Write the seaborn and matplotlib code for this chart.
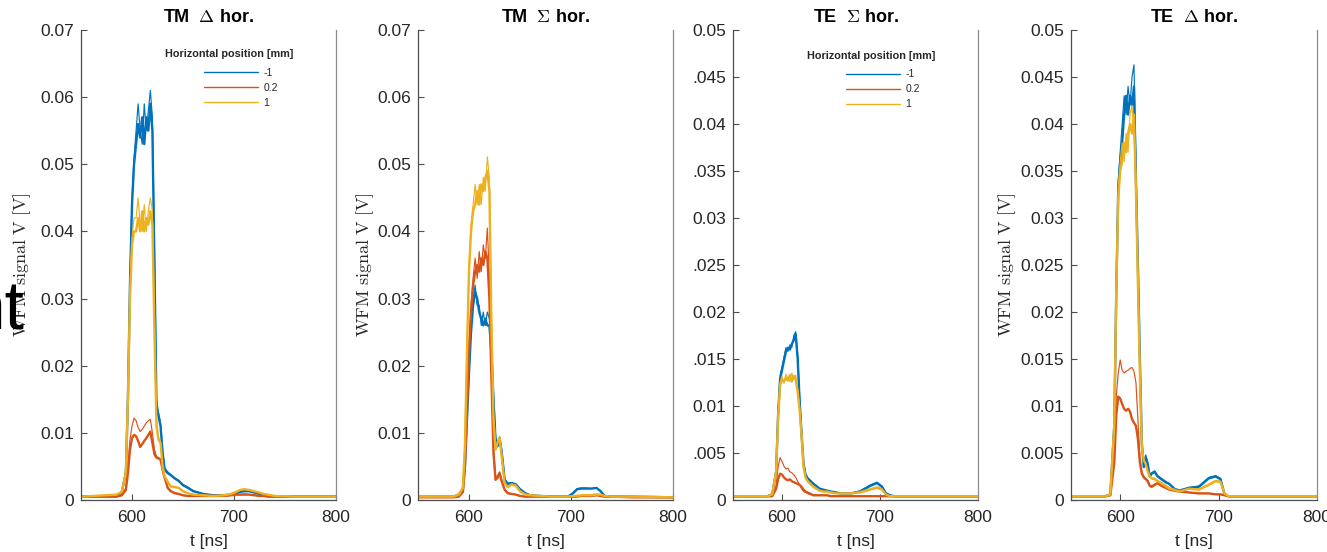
import matplotlib
matplotlib.use("Agg")
import matplotlib.pyplot as plt
import pandas as pd
import seaborn as sns
from matplotlib.lines import Line2D

# ---------------- data ----------------
TIME_NS = [550, 585, 590, 594, 596, 598, 600, 602, 604, 606, 608, 610, 612, 614, 616,
           618, 620, 622, 624, 626, 628, 630, 632, 635, 638, 642, 646, 650, 655, 660,
           670, 680, 690, 697, 702, 706, 710, 715, 720, 725, 729, 733, 740, 760, 800]

POSITIONS = ["-1", "0.2", "1"]
COLORS = {"-1": "#0072BD", "0.2": "#D95319", "1": "#EDB120"}
LEGEND_TITLE = "Horizontal position [mm]"

TITLES = ["TM  $\\Delta$ hor.", "TM  $\\Sigma$ hor.", "TE  $\\Sigma$ hor.", "TE  $\\Delta$ hor."]
Y_TOPS = [0.07, 0.07, 0.05, 0.05]
YTICKS_07 = [0, 0.01, 0.02, 0.03, 0.04, 0.05, 0.06, 0.07]
YTICKLABELS_07 = ["0", "0.01", "0.02", "0.03", "0.04", "0.05", "0.06", "0.07"]
YTICKS_05 = [0, 0.005, 0.01, 0.015, 0.02, 0.025, 0.03, 0.035, 0.04, 0.045, 0.05]
YTICKLABELS_05_CLIPPED = ["0", ".005", "0.01", ".015", "0.02", ".025", "0.03", ".035", "0.04", ".045", "0.05"]
YTICKLABELS_05 = ["0", "0.005", "0.01", "0.015", "0.02", "0.025", "0.03", "0.035", "0.04", "0.045", "0.05"]
XTICKS = [600, 700, 800]
XTICKLABELS = ["600", "700", "800"]

# Panel 1: TM Delta hor.
tm_d_m1_a = [0.0005, 0.0006, 0.0012, 0.0040, 0.0150, 0.0320, 0.0440, 0.0500, 0.0530, 0.0560,
             0.0540, 0.0570, 0.0530, 0.0570, 0.0550, 0.0590, 0.0550, 0.0350, 0.0140, 0.0125,
             0.0110, 0.0070, 0.0045, 0.0040, 0.0037, 0.0032, 0.0028, 0.0022, 0.0018, 0.0013,
             0.0009, 0.0007, 0.0007, 0.0008, 0.0010, 0.0012, 0.0013, 0.0013, 0.0011, 0.0009,
             0.0007, 0.0006, 0.0005, 0.0005, 0.0005]
tm_d_m1_b = [0.0005, 0.0006, 0.0013, 0.0045, 0.0160, 0.0330, 0.0450, 0.0510, 0.0550, 0.0590,
             0.0550, 0.0530, 0.0590, 0.0550, 0.0580, 0.0610, 0.0570, 0.0380, 0.0150, 0.0130,
             0.0115, 0.0075, 0.0048, 0.0042, 0.0038, 0.0033, 0.0029, 0.0023, 0.0019, 0.0014,
             0.0009, 0.0007, 0.0007, 0.0008, 0.0011, 0.0013, 0.0014, 0.0013, 0.0011, 0.0009,
             0.0007, 0.0006, 0.0005, 0.0005, 0.0005]
tm_d_02_a = [0.0005, 0.0005, 0.0007, 0.0015, 0.0040, 0.0075, 0.0092, 0.0097, 0.0095, 0.0088,
             0.0079, 0.0083, 0.0088, 0.0092, 0.0097, 0.0102, 0.0085, 0.0068, 0.0063, 0.0062,
             0.0060, 0.0045, 0.0033, 0.0018, 0.0013, 0.0010, 0.0009, 0.0007, 0.0006, 0.0006,
             0.0006, 0.0006, 0.0006, 0.0007, 0.0008, 0.0008, 0.0008, 0.0008, 0.0007, 0.0006,
             0.0006, 0.0005, 0.0005, 0.0005, 0.0005]
tm_d_02_b = [0.0005, 0.0005, 0.0008, 0.0018, 0.0050, 0.0090, 0.0110, 0.0122, 0.0118, 0.0108,
             0.0102, 0.0105, 0.0110, 0.0115, 0.0118, 0.0120, 0.0100, 0.0075, 0.0065, 0.0063,
             0.0061, 0.0047, 0.0034, 0.0019, 0.0014, 0.0011, 0.0009, 0.0007, 0.0006, 0.0006,
             0.0006, 0.0006, 0.0006, 0.0007, 0.0008, 0.0008, 0.0009, 0.0008, 0.0007, 0.0006,
             0.0006, 0.0005, 0.0005, 0.0005, 0.0005]
tm_d_p1_a = [0.0005, 0.0008, 0.0012, 0.0040, 0.0150, 0.0300, 0.0380, 0.0400, 0.0400, 0.0420,
             0.0400, 0.0430, 0.0400, 0.0420, 0.0410, 0.0430, 0.0410, 0.0250, 0.0110, 0.0090,
             0.0085, 0.0050, 0.0035, 0.0027, 0.0020, 0.0019, 0.0018, 0.0013, 0.0010, 0.0008,
             0.0007, 0.0006, 0.0007, 0.0009, 0.0012, 0.0015, 0.0016, 0.0015, 0.0013, 0.0011,
             0.0009, 0.0008, 0.0006, 0.0005, 0.0005]
tm_d_p1_b = [0.0005, 0.0008, 0.0013, 0.0045, 0.0160, 0.0310, 0.0390, 0.0420, 0.0420, 0.0450,
             0.0410, 0.0400, 0.0440, 0.0400, 0.0430, 0.0450, 0.0430, 0.0270, 0.0120, 0.0092,
             0.0087, 0.0052, 0.0036, 0.0028, 0.0021, 0.0020, 0.0018, 0.0014, 0.0010, 0.0008,
             0.0007, 0.0006, 0.0007, 0.0009, 0.0012, 0.0015, 0.0016, 0.0015, 0.0013, 0.0011,
             0.0009, 0.0008, 0.0006, 0.0005, 0.0005]

# Panel 2: TM Sigma hor.
tm_s_m1_a = [0.0005, 0.0005, 0.0008, 0.0015, 0.0050, 0.0120, 0.0190, 0.0250, 0.0290, 0.0310,
             0.0300, 0.0280, 0.0270, 0.0260, 0.0270, 0.0260, 0.0260, 0.0220, 0.0150, 0.0090,
             0.0080, 0.0092, 0.0072, 0.0030, 0.0024, 0.0025, 0.0023, 0.0016, 0.0010, 0.0007,
             0.0006, 0.0005, 0.0005, 0.0005, 0.0010, 0.0016, 0.0017, 0.0017, 0.0017, 0.0018,
             0.0013, 0.0006, 0.0005, 0.0005, 0.0004]
tm_s_m1_b = [0.0005, 0.0005, 0.0009, 0.0017, 0.0055, 0.0130, 0.0200, 0.0260, 0.0300, 0.0320,
             0.0290, 0.0290, 0.0260, 0.0280, 0.0260, 0.0280, 0.0270, 0.0230, 0.0160, 0.0095,
             0.0083, 0.0094, 0.0075, 0.0032, 0.0025, 0.0026, 0.0024, 0.0017, 0.0011, 0.0007,
             0.0006, 0.0005, 0.0005, 0.0005, 0.0011, 0.0017, 0.0018, 0.0018, 0.0017, 0.0018,
             0.0014, 0.0006, 0.0005, 0.0005, 0.0004]
tm_s_02_a = [0.0004, 0.0004, 0.0005, 0.0012, 0.0050, 0.0130, 0.0220, 0.0280, 0.0320, 0.0340,
             0.0350, 0.0340, 0.0360, 0.0350, 0.0370, 0.0360, 0.0300, 0.0180, 0.0070, 0.0030,
             0.0033, 0.0040, 0.0028, 0.0015, 0.0010, 0.0009, 0.0008, 0.0006, 0.0005, 0.0005,
             0.0005, 0.0005, 0.0005, 0.0005, 0.0005, 0.0005, 0.0006, 0.0006, 0.0006, 0.0007,
             0.0006, 0.0005, 0.0005, 0.0004, 0.0004]
tm_s_02_b = [0.0004, 0.0004, 0.0005, 0.0013, 0.0055, 0.0140, 0.0230, 0.0290, 0.0330, 0.0360,
             0.0330, 0.0370, 0.0340, 0.0380, 0.0360, 0.0405, 0.0330, 0.0200, 0.0080, 0.0035,
             0.0036, 0.0042, 0.0030, 0.0016, 0.0011, 0.0009, 0.0008, 0.0006, 0.0005, 0.0005,
             0.0005, 0.0005, 0.0005, 0.0005, 0.0005, 0.0005, 0.0006, 0.0006, 0.0007, 0.0008,
             0.0006, 0.0005, 0.0005, 0.0004, 0.0004]
tm_s_p1_a = [0.0005, 0.0005, 0.0008, 0.0018, 0.0080, 0.0220, 0.0340, 0.0400, 0.0430, 0.0440,
             0.0460, 0.0440, 0.0470, 0.0460, 0.0480, 0.0490, 0.0460, 0.0260, 0.0120, 0.0075,
             0.0085, 0.0093, 0.0065, 0.0025, 0.0019, 0.0023, 0.0021, 0.0013, 0.0008, 0.0007,
             0.0006, 0.0005, 0.0005, 0.0005, 0.0006, 0.0006, 0.0007, 0.0007, 0.0007, 0.0008,
             0.0008, 0.0006, 0.0005, 0.0005, 0.0004]
tm_s_p1_b = [0.0005, 0.0005, 0.0009, 0.0020, 0.0090, 0.0230, 0.0350, 0.0410, 0.0440, 0.0470,
             0.0440, 0.0470, 0.0440, 0.0480, 0.0460, 0.0511, 0.0480, 0.0280, 0.0130, 0.0078,
             0.0087, 0.0095, 0.0068, 0.0026, 0.0020, 0.0024, 0.0022, 0.0014, 0.0009, 0.0007,
             0.0006, 0.0005, 0.0005, 0.0005, 0.0006, 0.0007, 0.0007, 0.0008, 0.0008, 0.0009,
             0.0008, 0.0006, 0.0005, 0.0005, 0.0004]

# Panel 3: TE Sigma hor.
te_s_m1_a = [0.0004, 0.0004, 0.0006, 0.0030, 0.0090, 0.0128, 0.0138, 0.0148, 0.0158, 0.0162,
             0.0160, 0.0166, 0.0170, 0.0176, 0.0150, 0.0105, 0.0070, 0.0038, 0.0027, 0.0023,
             0.0021, 0.0019, 0.0017, 0.0015, 0.0012, 0.0011, 0.0010, 0.0009, 0.0008, 0.0007,
             0.0007, 0.0009, 0.0015, 0.0018, 0.0014, 0.0007, 0.0005, 0.0004, 0.0004, 0.0004,
             0.0004, 0.0004, 0.0004, 0.0004, 0.0004]
te_s_m1_b = [0.0004, 0.0004, 0.0006, 0.0032, 0.0095, 0.0132, 0.0142, 0.0152, 0.0162, 0.0158,
             0.0165, 0.0162, 0.0175, 0.0179, 0.0155, 0.0110, 0.0073, 0.0040, 0.0028, 0.0024,
             0.0022, 0.0020, 0.0018, 0.0015, 0.0013, 0.0011, 0.0010, 0.0009, 0.0008, 0.0007,
             0.0007, 0.0010, 0.0016, 0.0019, 0.0015, 0.0008, 0.0005, 0.0004, 0.0004, 0.0004,
             0.0004, 0.0004, 0.0004, 0.0004, 0.0004]
te_s_02_a = [0.0004, 0.0004, 0.0004, 0.0012, 0.0022, 0.0028, 0.0027, 0.0024, 0.0022, 0.0021,
             0.0022, 0.0020, 0.0019, 0.0018, 0.0017, 0.0016, 0.0014, 0.0011, 0.0009, 0.0008,
             0.0007, 0.0006, 0.0005, 0.0005, 0.0005, 0.0005, 0.0005, 0.0004, 0.0004, 0.0004,
             0.0004, 0.0004, 0.0004, 0.0004, 0.0004, 0.0004, 0.0004, 0.0004, 0.0004, 0.0004,
             0.0004, 0.0004, 0.0004, 0.0004, 0.0004]
te_s_02_b = [0.0004, 0.0004, 0.0004, 0.0015, 0.0035, 0.0045, 0.0041, 0.0036, 0.0033, 0.0034,
             0.0030, 0.0029, 0.0027, 0.0024, 0.0020, 0.0016, 0.0012, 0.0009, 0.0008, 0.0007,
             0.0006, 0.0006, 0.0005, 0.0005, 0.0005, 0.0005, 0.0005, 0.0004, 0.0004, 0.0004,
             0.0004, 0.0004, 0.0004, 0.0004, 0.0004, 0.0004, 0.0004, 0.0004, 0.0004, 0.0004,
             0.0004, 0.0004, 0.0004, 0.0004, 0.0004]
te_s_p1_a = [0.0004, 0.0004, 0.0006, 0.0030, 0.0085, 0.0122, 0.0128, 0.0126, 0.0130, 0.0127,
             0.0133, 0.0126, 0.0132, 0.0128, 0.0115, 0.0095, 0.0068, 0.0035, 0.0024, 0.0020,
             0.0018, 0.0016, 0.0014, 0.0012, 0.0010, 0.0009, 0.0009, 0.0008, 0.0007, 0.0007,
             0.0007, 0.0008, 0.0011, 0.0013, 0.0011, 0.0006, 0.0004, 0.0004, 0.0004, 0.0004,
             0.0004, 0.0004, 0.0004, 0.0004, 0.0004]
te_s_p1_b = [0.0004, 0.0004, 0.0006, 0.0032, 0.0090, 0.0125, 0.0132, 0.0124, 0.0134, 0.0129,
             0.0126, 0.0135, 0.0128, 0.0133, 0.0118, 0.0097, 0.0070, 0.0036, 0.0025, 0.0021,
             0.0018, 0.0016, 0.0014, 0.0012, 0.0010, 0.0009, 0.0009, 0.0008, 0.0007, 0.0007,
             0.0007, 0.0009, 0.0012, 0.0014, 0.0012, 0.0006, 0.0004, 0.0004, 0.0004, 0.0004,
             0.0004, 0.0004, 0.0004, 0.0004, 0.0004]

# Panel 4: TE Delta hor.
te_d_m1_a = [0.0004, 0.0004, 0.0006, 0.0080, 0.0220, 0.0330, 0.0360, 0.0380, 0.0410, 0.0430,
             0.0410, 0.0430, 0.0420, 0.0440, 0.0340, 0.0250, 0.0150, 0.0060, 0.0035, 0.0045,
             0.0038, 0.0025, 0.0028, 0.0030, 0.0025, 0.0022, 0.0019, 0.0017, 0.0012, 0.0010,
             0.0013, 0.0014, 0.0023, 0.0025, 0.0022, 0.0006, 0.0004, 0.0004, 0.0004, 0.0004,
             0.0004, 0.0004, 0.0004, 0.0004, 0.0004]
te_d_m1_b = [0.0004, 0.0004, 0.0006, 0.0085, 0.0230, 0.0340, 0.0370, 0.0400, 0.0430, 0.0410,
             0.0440, 0.0420, 0.0450, 0.0463, 0.0360, 0.0240, 0.0140, 0.0055, 0.0040, 0.0048,
             0.0040, 0.0026, 0.0029, 0.0031, 0.0026, 0.0023, 0.0020, 0.0017, 0.0012, 0.0010,
             0.0013, 0.0015, 0.0024, 0.0026, 0.0023, 0.0006, 0.0004, 0.0004, 0.0004, 0.0004,
             0.0004, 0.0004, 0.0004, 0.0004, 0.0004]
te_d_02_a = [0.0004, 0.0004, 0.0005, 0.0040, 0.0090, 0.0110, 0.0108, 0.0102, 0.0097, 0.0095,
             0.0097, 0.0094, 0.0086, 0.0082, 0.0079, 0.0065, 0.0040, 0.0028, 0.0024, 0.0022,
             0.0020, 0.0015, 0.0014, 0.0016, 0.0018, 0.0015, 0.0013, 0.0011, 0.0010, 0.0009,
             0.0008, 0.0007, 0.0007, 0.0006, 0.0006, 0.0005, 0.0004, 0.0004, 0.0004, 0.0004,
             0.0004, 0.0004, 0.0004, 0.0004, 0.0004]
te_d_02_b = [0.0004, 0.0004, 0.0005, 0.0050, 0.0110, 0.0135, 0.0149, 0.0138, 0.0135, 0.0137,
             0.0138, 0.0140, 0.0141, 0.0137, 0.0125, 0.0085, 0.0045, 0.0030, 0.0025, 0.0023,
             0.0021, 0.0016, 0.0015, 0.0017, 0.0018, 0.0015, 0.0013, 0.0011, 0.0010, 0.0009,
             0.0008, 0.0007, 0.0007, 0.0006, 0.0006, 0.0005, 0.0004, 0.0004, 0.0004, 0.0004,
             0.0004, 0.0004, 0.0004, 0.0004, 0.0004]
te_d_p1_a = [0.0004, 0.0004, 0.0006, 0.0080, 0.0220, 0.0320, 0.0350, 0.0360, 0.0380, 0.0370,
             0.0390, 0.0400, 0.0390, 0.0410, 0.0330, 0.0230, 0.0135, 0.0055, 0.0042, 0.0038,
             0.0030, 0.0025, 0.0023, 0.0022, 0.0020, 0.0018, 0.0015, 0.0012, 0.0011, 0.0009,
             0.0012, 0.0011, 0.0016, 0.0020, 0.0019, 0.0007, 0.0004, 0.0004, 0.0004, 0.0004,
             0.0004, 0.0004, 0.0004, 0.0004, 0.0004]
te_d_p1_b = [0.0004, 0.0004, 0.0006, 0.0085, 0.0230, 0.0330, 0.0360, 0.0380, 0.0360, 0.0390,
             0.0370, 0.0410, 0.0420, 0.0390, 0.0340, 0.0240, 0.0140, 0.0058, 0.0043, 0.0039,
             0.0031, 0.0026, 0.0024, 0.0023, 0.0021, 0.0018, 0.0016, 0.0013, 0.0011, 0.0009,
             0.0012, 0.0012, 0.0017, 0.0021, 0.0020, 0.0007, 0.0004, 0.0004, 0.0004, 0.0004,
             0.0004, 0.0004, 0.0004, 0.0004, 0.0004]

PANEL_SERIES = [
    {"-1": (tm_d_m1_a, tm_d_m1_b), "0.2": (tm_d_02_a, tm_d_02_b), "1": (tm_d_p1_a, tm_d_p1_b)},
    {"-1": (tm_s_m1_a, tm_s_m1_b), "0.2": (tm_s_02_a, tm_s_02_b), "1": (tm_s_p1_a, tm_s_p1_b)},
    {"-1": (te_s_m1_a, te_s_m1_b), "0.2": (te_s_02_a, te_s_02_b), "1": (te_s_p1_a, te_s_p1_b)},
    {"-1": (te_d_m1_a, te_d_m1_b), "0.2": (te_d_02_a, te_d_02_b), "1": (te_d_p1_a, te_d_p1_b)},
]
PANEL_YTICKS = [(YTICKS_07, YTICKLABELS_07), (YTICKS_07, YTICKLABELS_07),
                (YTICKS_05, YTICKLABELS_05_CLIPPED), (YTICKS_05, YTICKLABELS_05)]

# ---------------- styling ----------------
sns.set_theme(style="white")
plt.rcParams["font.family"] = ["Liberation Sans", "DejaVu Sans"]
plt.rcParams["mathtext.fontset"] = "cm"

W, H = 1327, 552
fig = plt.figure(figsize=(W / 100, H / 100), dpi=100)
fig.patch.set_facecolor("white")

# axes boxes in pixels: (left, right, top, bottom)
BOXES = [(81, 336, 30, 500), (418, 673, 30, 500), (733, 978, 30, 500), (1071, 1317, 30, 500)]
YLABEL_X = [-0.19, -0.165, None, -0.215]
# (legend-handle left, legend top, title centre x, title centre y) in axes fractions
LEGEND_AT = [(0.482, 0.919, 0.580, 0.949), None, (0.461, 0.916, 0.566, 0.945), None]

for i, (l, r, t, b) in enumerate(BOXES):
    ax = fig.add_axes([l / W, 1 - b / H, (r - l) / W, (b - t) / H])
    rows = []
    for pos in POSITIONS:
        a_vals, b_vals = PANEL_SERIES[i][pos]
        for kind, vals in (("a", a_vals), ("b", b_vals)):
            for tt, vv in zip(TIME_NS, vals):
                rows.append({"t": tt, "v": vv, "pos": pos, "kind": kind})
    df = pd.DataFrame(rows)
    sns.lineplot(data=df, x="t", y="v", hue="pos", hue_order=POSITIONS, palette=COLORS,
                 size="kind", sizes={"a": 1.7, "b": 0.85}, size_order=["a", "b"],
                 estimator=None, sort=False, legend=False, ax=ax)

    ax.set_xlim(550, 800)
    ax.set_ylim(0, Y_TOPS[i])
    ax.set_xticks(XTICKS)
    ax.set_xticklabels(XTICKLABELS)
    yt, ytl = PANEL_YTICKS[i]
    ax.set_yticks(yt)
    ax.set_yticklabels(ytl)
    ax.tick_params(axis="both", direction="in", length=4, width=0.8, color="#4d4d4d",
                   labelsize=12.5, labelcolor="#262626", left=True, bottom=True,
                   right=False, top=False)
    ax.tick_params(axis="y", pad=5)
    ax.tick_params(axis="x", pad=7)
    for side in ("left", "bottom"):
        ax.spines[side].set_color("#4d4d4d")
        ax.spines[side].set_linewidth(0.9)
    ax.spines["right"].set_color("#8c8c8c")
    ax.spines["right"].set_linewidth(0.9)
    ax.spines["top"].set_visible(False)

    ax.set_title(TITLES[i], fontsize=13, fontweight="bold", color="black", pad=6)
    ax.set_xlabel("t [ns]", fontsize=12.5, color="#262626", labelpad=7)
    if YLABEL_X[i] is not None:
        ax.set_ylabel(r"$\mathrm{WFM\ signal\ V\ [V]}$", fontsize=13, color="#262626")
        ax.yaxis.set_label_coords(YLABEL_X[i], 0.5)
    else:
        ax.set_ylabel("")

    if LEGEND_AT[i] is not None:
        hx, hy, tx, ty = LEGEND_AT[i]
        handles = [Line2D([], [], color=COLORS[p], lw=1.0) for p in POSITIONS]
        ax.legend(handles, POSITIONS, loc="upper left", bbox_to_anchor=(hx, hy),
                  frameon=False, fontsize=7.5, handlelength=5.2, handletextpad=0.5,
                  labelspacing=0.48, borderpad=0, borderaxespad=0)
        ax.text(tx, ty, LEGEND_TITLE, transform=ax.transAxes, ha="center", va="center",
                fontsize=7.8, fontweight="bold", color="#262626")

# cut-off big text at the far left
fig.text(24 / W, 1 - 330 / H, "nt", ha="right", va="baseline", fontsize=50, color="black")

fig.savefig("out.png", dpi=100)
